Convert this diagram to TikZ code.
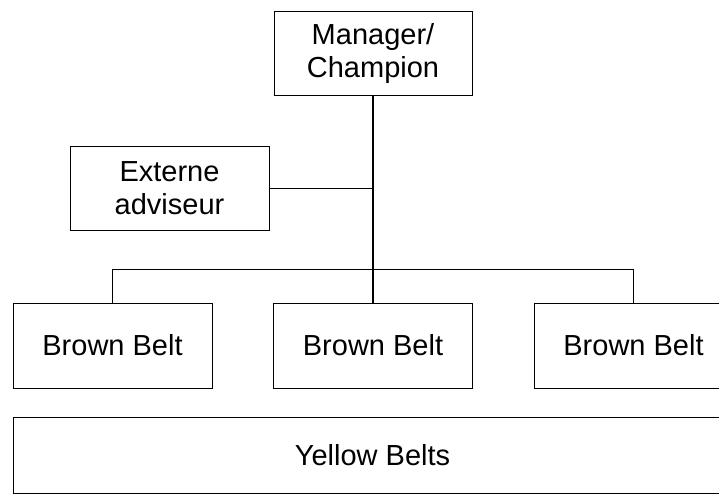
\documentclass[tikz,border=0pt]{standalone}
\usepackage{fontspec}
\setmainfont{Liberation Sans}
\usetikzlibrary{positioning}

\begin{document}
\begin{tikzpicture}[
  x=1pt, y=-1pt,
  node distance=60.5pt,
  caja/.style={rectangle, draw, line width=1pt, align=center, minimum width=199pt, minimum height=85pt, font=\fontsize{29}{33}\selectfont},
  linea/.style={line width=1pt},
  tronco/.style={line width=2pt}
]
\useasboundingbox (0,0) rectangle (719,495);
\clip (0,0) rectangle (719,495);
\node[caja, minimum width=198pt, minimum height=83pt] (mgr) at (373,53.5) {Manager/\\Champion};
\node[caja, minimum height=84pt] (ext) at (169.5,188) {Externe\\adviseur};
\node[caja] (bb1) at (112.5,345.5) {Brown Belt};
\node[caja, right=of bb1] (bb2) {Brown Belt};
\node[caja, right=of bb2] (bb3) {Brown Belt};
\node[caja, minimum width=719pt, minimum height=76pt] (yb) at (372.5,455) {Yellow Belts};
\coordinate (rama) at (373,269);
\draw[tronco] (mgr.south) -- (rama);
\draw[linea] (ext.east) -- (ext.east -| mgr.south);
\draw[linea] (bb1.north) |- (rama);
\draw[linea] (rama) -| (bb3.north);
\draw[line width=1.4pt] (rama) -- (bb2.north);
\end{tikzpicture}
\end{document}
